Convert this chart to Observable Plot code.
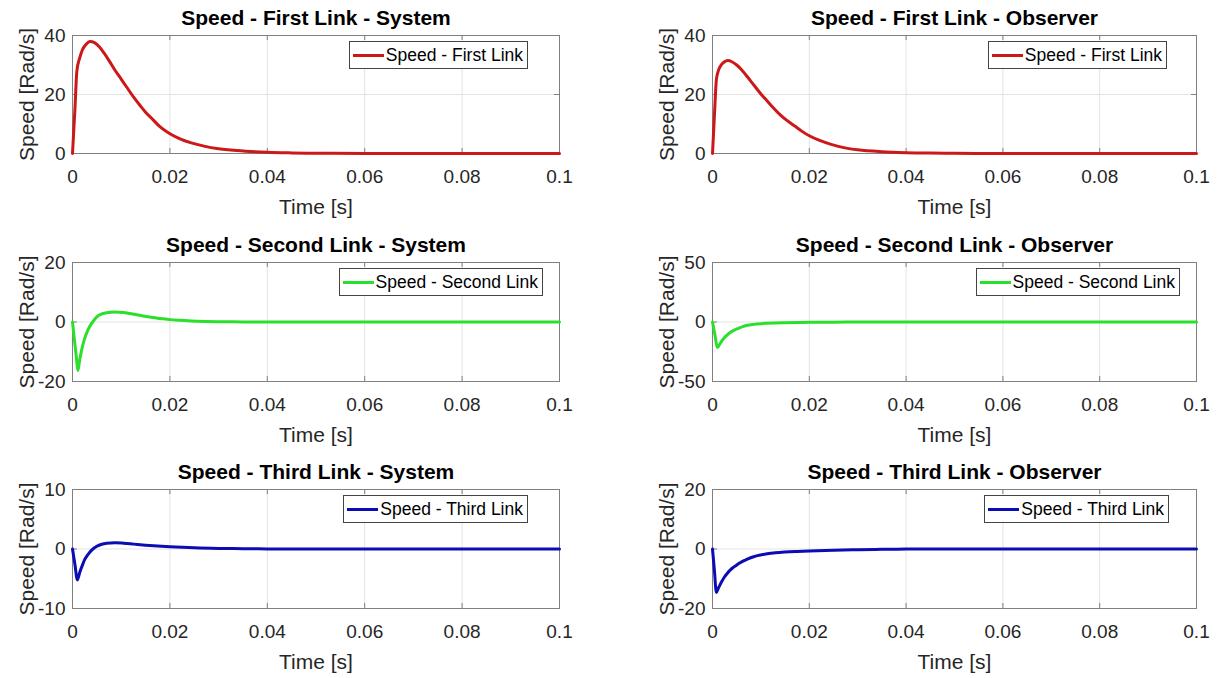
<!DOCTYPE html>
<html><head><meta charset="utf-8">
<script src="https://cdn.jsdelivr.net/npm/d3@7"></script>
<script src="https://cdn.jsdelivr.net/npm/@observablehq/plot@0.6"></script>
<style>
html,body{margin:0;padding:0;background:#fff;overflow:hidden}
#root{position:relative;width:1221px;height:678px;font-family:"Liberation Sans",Arial,Helvetica,sans-serif}
.panel{position:absolute}
.legend{position:absolute;box-sizing:border-box;height:28px;border:1px solid #444;background:#fff;display:flex;align-items:center;padding:0 4px 0 3px;font-size:17.5px;color:#000;white-space:nowrap}
.legend .swatch{display:inline-block;width:31px;height:3px;margin-right:2px}
</style></head><body><div id="root"></div>
<script>
// ---- data ----
const xTicks = [0, 0.02, 0.04, 0.06, 0.08, 0.1];
const xLabel = "Time [s]";
const yLabel = "Speed [Rad/s]";

const titleFirstSys = "Speed - First Link - System";
const titleFirstObs = "Speed - First Link - Observer";
const titleSecondSys = "Speed - Second Link - System";
const titleSecondObs = "Speed - Second Link - Observer";
const titleThirdSys = "Speed - Third Link - System";
const titleThirdObs = "Speed - Third Link - Observer";

const legendFirst = "Speed - First Link";
const legendSecond = "Speed - Second Link";
const legendThird = "Speed - Third Link";

const colorFirst = "#cc1818";
const colorSecond = "#2ae02a";
const colorThird = "#0c0cb4";

const yTicksFirstSys = [0, 20, 40];
const yTicksFirstObs = [0, 20, 40];
const yTicksSecondSys = [-20, 0, 20];
const yTicksSecondObs = [-50, 0, 50];
const yTicksThirdSys = [-10, 0, 10];
const yTicksThirdObs = [-20, 0, 20];

const timeFirstSys = [0, .0005, .0009, .0015, .002, .0028, .0036, .0045, .0055, .0065, .0075, .0087, .01, .011, .0126, .014, .015, .0165, .018, .02, .0222, .0244, .027, .03, .0355, .04, .045, .05, .06, .08, .1];
const speedFirstSys = [0, 15, 28, 32.5, 35, 37, 38, 37.6, 36.2, 34, 31.5, 28.3, 25.2, 22.8, 19, 16, 14, 11.5, 9, 6.7, 4.9, 3.6, 2.5, 1.6, 0.8, 0.4, 0.2, 0.1, 0.03, 0, 0];

const timeFirstObs = [0, .0004, .0008, .0012, .0016, .0024, .0032, .004, .005, .006, .0072, .0085, .01, .0113, .0125, .014, .0153, .017, .0185, .02, .022, .0245, .0274, .03, .035, .04, .045, .05, .06, .08, .1];
const speedFirstObs = [0, 13, 25, 28, 29.5, 31, 31.5, 31.1, 30, 28.4, 26, 23.3, 20.2, 17.8, 15.6, 13.1, 11.3, 9.3, 7.5, 6, 4.5, 3.1, 1.9, 1.25, 0.6, 0.28, 0.13, 0.06, 0.01, 0, 0];

const timeSecondSys = [0, .0004, .0008, .0011, .0015, .002, .0025, .003, .0035, .004, .005, .006, .007, .0087, .0105, .0126, .0145, .0165, .018, .02, .0222, .0244, .027, .03, .035, .04, .05, .06, .08, .1];
const speedSecondSys = [0, -6, -12, -16.3, -12.5, -8.5, -5.5, -3.3, -1.6, -0.3, 1.7, 2.7, 3.1, 3.4, 3.2, 2.6, 2.0, 1.5, 1.2, 0.8, 0.55, 0.35, 0.2, 0.1, 0.04, 0.01, 0, 0, 0, 0];

const timeSecondObs = [0, .0005, .001, .0015, .002, .0024, .003, .0036, .0042, .0048, .0056, .0064, .0072, .0085, .01, .0113, .013, .015, .0175, .02, .025, .03, .04, .06, .08, .1];
const speedSecondObs = [0, -10.7, -21.5, -18.5, -15.5, -13.4, -11, -9.1, -7.5, -6.3, -4.9, -3.7, -2.8, -2, -1.4, -1.1, -0.8, -0.55, -0.4, -0.3, -0.15, -0.05, 0, 0, 0, 0];

const timeThirdSys = [0, .0005, .001, .0015, .002, .0025, .003, .0035, .004, .005, .006, .007, .0087, .0105, .0126, .015, .0175, .02, .0225, .025, .03, .035, .04, .06, .08, .1];
const speedThirdSys = [0, -2.6, -5.2, -3.9, -2.8, -1.8, -1.1, -0.6, -0.15, 0.45, 0.8, 0.97, 1.05, 0.97, 0.82, 0.65, 0.5, 0.38, 0.28, 0.2, 0.1, 0.05, 0.02, 0, 0, 0];

const timeThirdObs = [0, .0004, .0008, .0012, .0016, .002, .0024, .003, .0036, .0042, .0048, .0056, .0064, .0072, .0085, .01, .0113, .013, .015, .0175, .02, .025, .03, .035, .04, .06, .08, .1];
const speedThirdObs = [0, -7.3, -14.6, -13.2, -11.9, -10.7, -9.6, -8.3, -7.2, -6.3, -5.6, -4.7, -4, -3.4, -2.6, -2, -1.6, -1.25, -1, -0.8, -0.65, -0.4, -0.22, -0.1, -0.04, 0, 0, 0];

// ---- layout ----
const colLeft = [0, 610], colWidth = [610, 611], plotLeft = [72, 712], plotRight = [559, 1196];
const rowTop = [0, 227, 454], plotTop = [35, 262, 489], plotBottom = [153, 381, 608];
const fontFamily = '"Liberation Sans", Arial, Helvetica, sans-serif';

const panels = [
  {title: titleFirstSys, t: timeFirstSys, v: speedFirstSys, ticks: yTicksFirstSys, color: colorFirst, legend: legendFirst, col: 0, row: 0, legendRight: 31},
  {title: titleFirstObs, t: timeFirstObs, v: speedFirstObs, ticks: yTicksFirstObs, color: colorFirst, legend: legendFirst, col: 1, row: 0, legendRight: 29},
  {title: titleSecondSys, t: timeSecondSys, v: speedSecondSys, ticks: yTicksSecondSys, color: colorSecond, legend: legendSecond, col: 0, row: 1, legendRight: 16},
  {title: titleSecondObs, t: timeSecondObs, v: speedSecondObs, ticks: yTicksSecondObs, color: colorSecond, legend: legendSecond, col: 1, row: 1, legendRight: 16},
  {title: titleThirdSys, t: timeThirdSys, v: speedThirdSys, ticks: yTicksThirdSys, color: colorThird, legend: legendThird, col: 0, row: 2, legendRight: 31},
  {title: titleThirdObs, t: timeThirdObs, v: speedThirdObs, ticks: yTicksThirdObs, color: colorThird, legend: legendThird, col: 1, row: 2, legendRight: 27}
];

const root = document.getElementById("root");
const gridColor = "#e3e3e3", boxColor = "#808080";

for (const p of panels) {
  const c = p.col, r = p.row;
  const width = colWidth[c];
  const mL = plotLeft[c] - colLeft[c], mR = colLeft[c] + width - plotRight[c];
  const mT = plotTop[r] - rowTop[r], mB = 70;
  const pw = plotRight[c] - plotLeft[c], ph = plotBottom[r] - plotTop[r];
  const height = mT + ph + mB;
  const data = p.t.map((t, i) => ({t, v: p.v[i]}));
  const yDomain = [p.ticks[0], p.ticks[p.ticks.length - 1]];
  const chart = Plot.plot({
    width, height, marginLeft: mL, marginRight: mR, marginTop: mT, marginBottom: mB,
    style: {fontFamily, color: "#262626", background: "transparent", overflow: "visible"},
    x: {domain: [0, 0.1]},
    y: {domain: yDomain},
    marks: [
      Plot.gridX(xTicks, {stroke: gridColor, strokeOpacity: 1}),
      Plot.gridY(p.ticks, {stroke: gridColor, strokeOpacity: 1}),
      Plot.frame({stroke: boxColor}),
      Plot.tickX(xTicks, {x: d => d, stroke: boxColor, insetTop: ph - 5}),
      Plot.tickX(xTicks, {x: d => d, stroke: boxColor, insetBottom: ph - 5}),
      Plot.tickY(p.ticks, {y: d => d, stroke: boxColor, insetRight: pw - 5}),
      Plot.tickY(p.ticks, {y: d => d, stroke: boxColor, insetLeft: pw - 5}),
      Plot.axisX(xTicks, {tickSize: 0, tickPadding: 16, fontSize: 19, tickFormat: d => String(d), label: null}),
      Plot.axisY(p.ticks, {tickSize: 0, tickPadding: 7, fontSize: 19, tickFormat: d => String(d), label: null}),
      Plot.line(data, {x: "t", y: "v", stroke: p.color, strokeWidth: 3, curve: "monotone-x"}),
      Plot.text([p.title], {text: d => d, frameAnchor: "top", lineAnchor: "middle", textAnchor: "middle", dy: -17, fontSize: 21, fontWeight: "bold", fill: "#000"}),
      Plot.text([xLabel], {text: d => d, frameAnchor: "bottom", lineAnchor: "middle", textAnchor: "middle", dy: 54, fontSize: 21, fill: "#262626"}),
      Plot.text([yLabel], {text: d => d, frameAnchor: "left", lineAnchor: "middle", textAnchor: "middle", dx: -45, rotate: -90, fontSize: 21, fill: "#262626"})
    ]
  });
  const div = document.createElement("div");
  div.className = "panel";
  div.style.left = colLeft[c] + "px";
  div.style.top = rowTop[r] + "px";
  div.style.width = width + "px";
  div.style.height = height + "px";
  div.appendChild(chart);
  const lg = document.createElement("div");
  lg.className = "legend";
  lg.style.top = (mT + 6) + "px";
  lg.style.right = (mR + p.legendRight) + "px";
  const sw = document.createElement("span");
  sw.className = "swatch";
  sw.style.background = p.color;
  lg.appendChild(sw);
  lg.appendChild(document.createTextNode(p.legend));
  div.appendChild(lg);
  root.appendChild(div);
}
</script></body></html>
